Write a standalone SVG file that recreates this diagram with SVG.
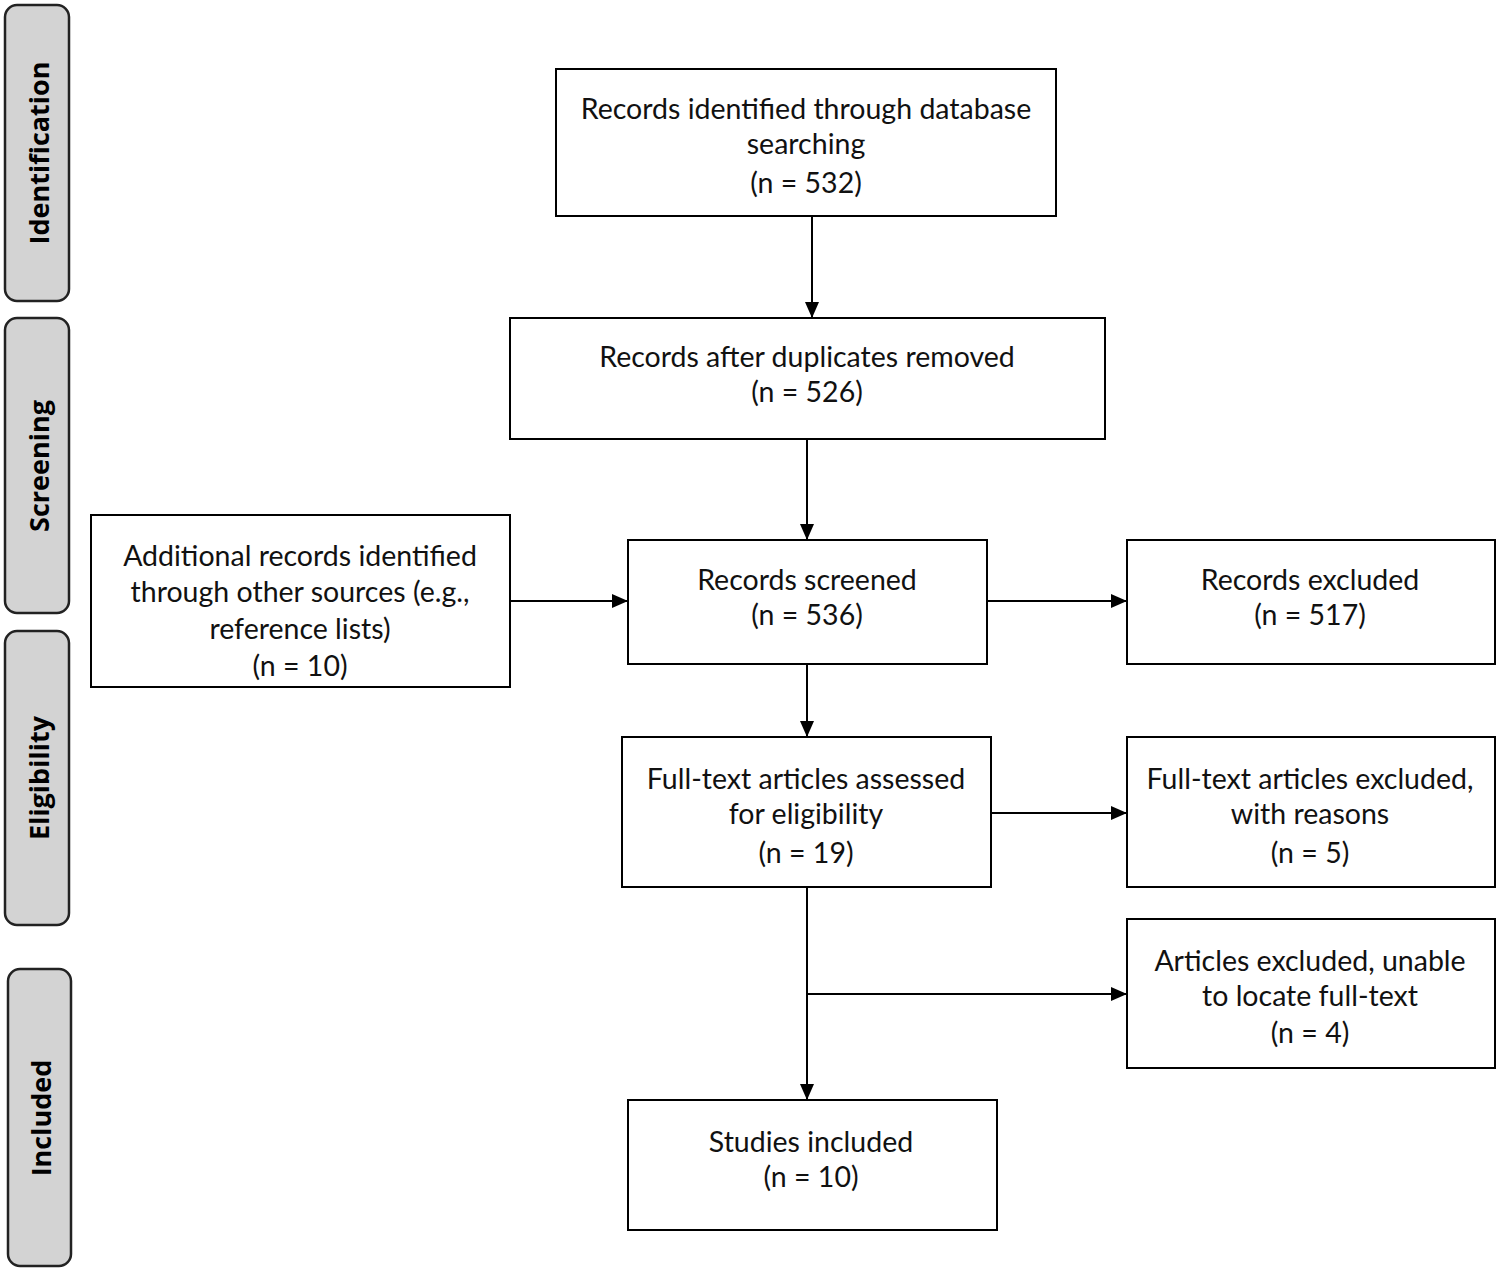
<svg xmlns="http://www.w3.org/2000/svg" width="1500" height="1272" viewBox="0 0 1500 1272">
<defs>
<marker id="ah" markerWidth="16" markerHeight="14" refX="15" refY="7" orient="auto" markerUnits="userSpaceOnUse">
<path d="M0,0 L16,7 L0,14 Z" fill="#000"/>
</marker>
<style>
.box{fill:#fff;stroke:#000;stroke-width:2}
.side{fill:#d3d3d3;stroke:#222;stroke-width:2.5}
.t{font-family:Lato,"Open Sans","Liberation Sans",sans-serif;font-size:28.5px;text-anchor:middle;dominant-baseline:central;fill:#111}
.s{font-family:"Open Sans","Liberation Sans",sans-serif;font-size:27px;font-weight:bold;text-anchor:middle;dominant-baseline:central;fill:#000}
.c{stroke:#000;stroke-width:2;fill:none}
</style>
</defs>
<rect width="1500" height="1272" fill="#fff"/>
<g id="phase-identification"><rect class="side" x="5" y="5" width="64" height="296" rx="12"/><text class="s" transform="translate(38,153) rotate(-90)">Identification</text></g>
<g id="phase-screening"><rect class="side" x="5" y="318" width="64" height="295" rx="12"/><text class="s" transform="translate(38,466) rotate(-90)">Screening</text></g>
<g id="phase-eligibility"><rect class="side" x="5" y="631" width="64" height="294" rx="12"/><text class="s" transform="translate(38,778) rotate(-90)">Eligibility</text></g>
<g id="phase-included"><rect class="side" x="8" y="969" width="63" height="297" rx="12"/><text class="s" transform="translate(40,1118) rotate(-90)">Included</text></g>

<g id="n-identified"><rect class="box" x="556" y="69" width="500" height="147"/><text class="t" x="806" y="108">Records identified through database</text><text class="t" x="806" y="143">searching</text><text class="t" x="806" y="182">(n = 532)</text></g>
<g id="n-dedup"><rect class="box" x="510" y="318" width="595" height="121"/><text class="t" x="807" y="356">Records after duplicates removed</text><text class="t" x="807" y="391">(n = 526)</text></g>
<g id="n-additional"><rect class="box" x="91" y="515" width="419" height="172"/><text class="t" x="300" y="555">Additional records identified</text><text class="t" x="300" y="591">through other sources (e.g.,</text><text class="t" x="300" y="628">reference lists)</text><text class="t" x="300" y="665">(n = 10)</text></g>
<g id="n-screened"><rect class="box" x="628" y="540" width="359" height="124"/><text class="t" x="807" y="579">Records screened</text><text class="t" x="807" y="614">(n = 536)</text></g>
<g id="n-excluded"><rect class="box" x="1127" y="540" width="368" height="124"/><text class="t" x="1310" y="579">Records excluded</text><text class="t" x="1310" y="614">(n = 517)</text></g>
<g id="n-fulltext"><rect class="box" x="622" y="737" width="369" height="150"/><text class="t" x="806" y="778">Full-text articles assessed</text><text class="t" x="806" y="813">for eligibility</text><text class="t" x="806" y="852">(n = 19)</text></g>
<g id="n-ftexcluded"><rect class="box" x="1127" y="737" width="368" height="150"/><text class="t" x="1310" y="778">Full-text articles excluded,</text><text class="t" x="1310" y="813">with reasons</text><text class="t" x="1310" y="852">(n = 5)</text></g>
<g id="n-unable"><rect class="box" x="1127" y="919" width="368" height="149"/><text class="t" x="1310" y="960">Articles excluded, unable</text><text class="t" x="1310" y="995">to locate full-text</text><text class="t" x="1310" y="1032">(n = 4)</text></g>
<g id="n-included"><rect class="box" x="628" y="1100" width="369" height="130"/><text class="t" x="811" y="1141">Studies included</text><text class="t" x="811" y="1176">(n = 10)</text></g>

<g id="connectors">
<line class="c" x1="812" y1="216" x2="812" y2="317" marker-end="url(#ah)"/>
<line class="c" x1="807" y1="439" x2="807" y2="539" marker-end="url(#ah)"/>
<line class="c" x1="510" y1="601" x2="627" y2="601" marker-end="url(#ah)"/>
<line class="c" x1="987" y1="601" x2="1126" y2="601" marker-end="url(#ah)"/>
<line class="c" x1="807" y1="664" x2="807" y2="736" marker-end="url(#ah)"/>
<line class="c" x1="991" y1="813" x2="1126" y2="813" marker-end="url(#ah)"/>
<line class="c" x1="807" y1="887" x2="807" y2="1099" marker-end="url(#ah)"/>
<line class="c" x1="807" y1="994" x2="1126" y2="994" marker-end="url(#ah)"/>
</g>
</svg>
